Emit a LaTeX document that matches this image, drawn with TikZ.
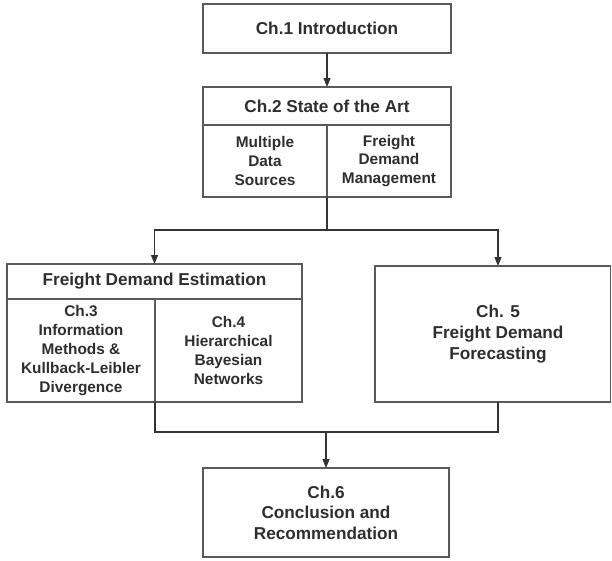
\documentclass[tikz,border=0pt]{standalone}
\usepackage{fontspec}
\setmainfont{Liberation Sans}
\usetikzlibrary{arrows.meta}
\definecolor{boxline}{HTML}{5A5A5A}
\definecolor{wire}{HTML}{333333}
\definecolor{ink}{HTML}{2E2E2E}
\begin{document}
\begin{tikzpicture}[x=1pt,y=-1pt,
  cell/.style={draw=boxline, line width=1.6pt, rectangle, inner sep=0pt, outer sep=0pt,
    align=center, text=ink, font=\bfseries\fontsize{15.4}{18.8}\selectfont},
  big/.style={cell, font=\bfseries\fontsize{17.2}{20.6}\selectfont},
  wireline/.style={draw=wire, line width=1.2pt},
  wirearrow/.style={wireline, -{Triangle[length=9pt,width=7pt]}}]
\useasboundingbox (0,0) rectangle (612,560);

% chapter boxes
\node[big, minimum width=248pt, minimum height=49pt] (ch1) at (327,28.5) {Ch.1 Introduction};
\node[big, minimum width=248pt, minimum height=38pt] (ch2) at (327,106) {Ch.2 State of the Art};
\node[cell, minimum width=124pt, minimum height=72pt] (ch2a) at (265,161) {Multiple\\Data\\Sources};
\node[cell, minimum width=124pt, minimum height=72pt] (ch2b) at (389,161) {Freight\\Demand\\Management};

\node[big, minimum width=295pt, minimum height=35pt] (fde) at (154.5,281.5) {Freight Demand Estimation};
\node[cell, minimum width=148pt, minimum height=103pt] (ch3) at (81,350.5)
  {Ch.3\\Information\\Methods \&\\Kullback-Leibler\\Divergence};
\node[cell, minimum width=147pt, minimum height=103pt] (ch4) at (228.5,350.5)
  {Ch.4\\Hierarchical\\Bayesian\\Networks};

% the forecasting box runs up to the right margin
\node[big, draw=none, minimum width=246pt, minimum height=136pt] (ch5) at (498,334)
  {Ch. 5\\Freight Demand\\Forecasting};
\coordinate (ch5rim) at (610.5,402);
\draw[draw=boxline, line width=1.6pt] (ch5.north west) rectangle (ch5rim);

\node[big, minimum width=246pt, minimum height=89pt] (ch6) at (326,512.5)
  {Ch.6\\Conclusion and\\Recommendation};

% connectors
\coordinate (split) at (327,230);
\coordinate (join) at (326,432);
\draw[wirearrow] (ch1) -- (ch2);
\draw[wireline] (ch2a.south east) -- (split);
\draw[wirearrow] (split) -| (fde.north);
\draw[wirearrow] (split) -| (ch5.north);
\draw[wireline] (ch3.south east) -- ++(0,30) -| (ch5.south);
\draw[wirearrow] (join) -- (ch6.north);
\end{tikzpicture}
\end{document}
